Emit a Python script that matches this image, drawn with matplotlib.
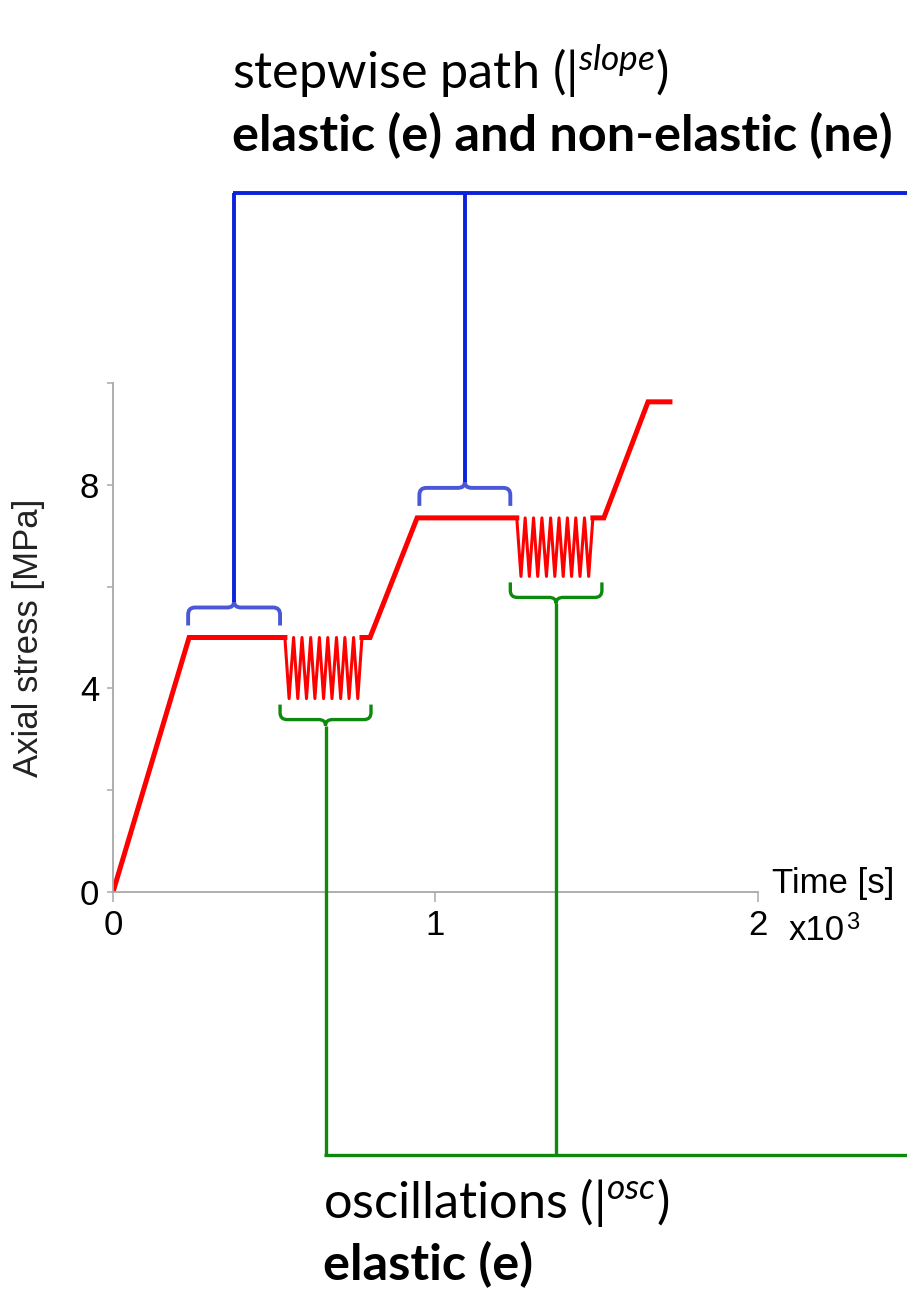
import matplotlib
matplotlib.use("Agg")
import matplotlib.pyplot as plt
from matplotlib.lines import Line2D
from matplotlib.path import Path
from matplotlib.patches import PathPatch

W, H = 907, 1293

# loading protocol: time [s], axial stress [MPa]
ramp1_time = [0, 236, 533]
ramp1_stress = [0.0, 5.0, 5.0]
ramp2_time = [772, 797, 943, 1252]
ramp2_stress = [5.0, 5.0, 7.35, 7.35]
ramp3_time = [1488, 1522, 1659, 1727]
ramp3_stress = [7.35, 7.35, 9.63, 9.63]

osc1_time = [533, 546, 560, 573, 586, 600, 613, 626, 640, 653,
             666, 679, 693, 706, 719, 732, 746, 759, 772]
osc1_stress = [5.0, 3.8, 5.0, 3.8, 5.0, 3.8, 5.0, 3.8, 5.0, 3.8,
               5.0, 3.8, 5.0, 3.8, 5.0, 3.8, 5.0, 3.8, 5.0]
osc2_time = [1252, 1265, 1278, 1291, 1304, 1317, 1330, 1344, 1357, 1370,
             1383, 1396, 1409, 1422, 1435, 1448, 1462, 1475, 1488]
osc2_stress = [7.35, 6.2, 7.35, 6.2, 7.35, 6.2, 7.35, 6.2, 7.35, 6.2,
               7.35, 6.2, 7.35, 6.2, 7.35, 6.2, 7.35, 6.2, 7.35]

# bracket spans (s) and the stress level they sit against
slope_spans = [(233, 518), (950, 1232)]
slope_levels = [5.0, 7.35]
osc_spans = [(518, 800), (1232, 1516)]
osc_levels = [3.8, 6.2]

x_ticks = [0, 1000, 2000]
x_ticklabels = ["0", "1", "2"]
y_ticks = [0, 2, 4, 6, 8, 10]
y_ticklabels = ["0", "", "4", "", "8", ""]

RED = "#ff0000"
BLUE_LINE = "#0a22dc"
BLUE_BRACE = "#4a58d8"
GREEN = "#0d8a0d"
AXIS_GREY = "#a8a8a8"
SANS = "Liberation Sans"

plt.rcParams["mathtext.fontset"] = "custom"
plt.rcParams["mathtext.rm"] = "Lato"
plt.rcParams["mathtext.it"] = "Lato:italic"

fig = plt.figure(figsize=(W / 100, H / 100), dpi=100)
ax = fig.add_axes([113 / W, 1 - 892 / H, 645 / W, 509 / H])

ax.plot(ramp1_time, ramp1_stress, color=RED, lw=3.6, solid_joinstyle="miter")
ax.plot(ramp2_time, ramp2_stress, color=RED, lw=3.6, solid_joinstyle="miter")
ax.plot(ramp3_time, ramp3_stress, color=RED, lw=3.6, solid_joinstyle="miter")
ax.plot(osc1_time, osc1_stress, color=RED, lw=2.2, solid_joinstyle="round")
ax.plot(osc2_time, osc2_stress, color=RED, lw=2.2, solid_joinstyle="round")

ax.set_xlim(0, 2000)
ax.set_ylim(0, 10)
for side in ["top", "right"]:
    ax.spines[side].set_visible(False)
for side in ["left", "bottom"]:
    ax.spines[side].set_color(AXIS_GREY)
    ax.spines[side].set_linewidth(1.3)
ax.set_xticks(x_ticks, x_ticklabels, fontsize=25, family=SANS)
ax.set_yticks(y_ticks, y_ticklabels, fontsize=25, family=SANS)
ax.tick_params(axis="x", length=7, width=1.1, color=AXIS_GREY, pad=5)
ax.tick_params(axis="y", length=4, width=1.1, color=AXIS_GREY, pad=6)

fig.text(29 / W, 1 - 638 / H, "Axial stress [MPa]", rotation=90, ha="center",
         va="center", fontsize=25, family=SANS, color="#222222")
fig.text(772 / W, 1 - 893 / H, "Time [s]", ha="left", va="baseline",
         fontsize=25, family=SANS)
fig.text(789 / W, 1 - 940 / H, "x10", ha="left", va="baseline",
         fontsize=25, family=SANS)
fig.text(846 / W, 1 - 929 / H, "3", ha="left", va="baseline",
         fontsize=17, family=SANS)


def to_px(t, s):
    return ax.transData.transform((t, s))


def fig_line(xs, ys, color, lw):
    fig.add_artist(Line2D([x / W for x in xs], [y / H for y in ys],
                          transform=fig.transFigure, color=color, lw=lw,
                          solid_capstyle="butt", solid_joinstyle="miter"))


def brace(x0, x1, y_leg, y_bar, color, lw, r=7, tip=6):
    # curly brace in pixel coords, legs at y_leg, bar at y_bar, tip away
    d = 1 if y_bar > y_leg else -1
    xm = (x0 + x1) / 2
    verts = [(x0, y_leg), (x0, y_bar - d * r), (x0, y_bar), (x0 + r, y_bar),
             (xm - r, y_bar), (xm, y_bar), (xm, y_bar + d * tip),
             (xm, y_bar), (xm + r, y_bar), (x1 - r, y_bar),
             (x1, y_bar), (x1, y_bar - d * r), (x1, y_leg)]
    codes = [Path.MOVETO, Path.LINETO, Path.CURVE3, Path.CURVE3,
             Path.LINETO, Path.CURVE3, Path.CURVE3,
             Path.CURVE3, Path.CURVE3, Path.LINETO,
             Path.CURVE3, Path.CURVE3, Path.LINETO]
    verts = [(x / W, y / H) for x, y in verts]
    fig.add_artist(PathPatch(Path(verts, codes), transform=fig.transFigure,
                             fill=False, edgecolor=color, lw=lw,
                             capstyle="butt"))
    return xm, y_bar + d * tip


# stepwise-path braces (above the holds) and blue connector
blue_y = H - 193
blue_x = []
for (t0, t1), lev in zip(slope_spans, slope_levels):
    x0, y = to_px(t0, lev)
    x1, _ = to_px(t1, lev)
    xm, ytip = brace(x0, x1, y + 12, y + 30, BLUE_BRACE, 2.8)
    fig_line([xm, xm], [ytip, blue_y], BLUE_LINE, 2.8)
    blue_x.append(xm)
fig_line([blue_x[0] - 1.5, W], [blue_y, blue_y], BLUE_LINE, 2.8)

# oscillation braces (below the troughs) and green connector
green_y = H - 1155
green_x = []
for (t0, t1), lev in zip(osc_spans, osc_levels):
    x0, y = to_px(t0, lev)
    x1, _ = to_px(t1, lev)
    xm, ytip = brace(x0, x1, y - 6, y - 21, GREEN, 2.4)
    fig_line([xm, xm], [ytip, green_y], GREEN, 2.4)
    green_x.append(xm)
fig_line([green_x[0] - 1.2, W], [green_y, green_y], GREEN, 2.4)

# captions
fig.text(232 / W, 1 - 89 / H, r"stepwise path (|$^{slope}$)", ha="left",
         va="baseline", fontsize=36.3, family="Lato")
fig.text(232 / W, 1 - 151 / H, "elastic (e) and non-elastic (ne)", ha="left",
         va="baseline", fontsize=36.3, family="Lato", fontweight="bold")
fig.text(323 / W, 1 - 1218 / H, r"oscillations (|$^{osc}$)", ha="left",
         va="baseline", fontsize=36.3, family="Lato")
fig.text(323 / W, 1 - 1280 / H, "elastic (e)", ha="left",
         va="baseline", fontsize=36.3, family="Lato", fontweight="bold")

fig.savefig("out.png", dpi=100)
